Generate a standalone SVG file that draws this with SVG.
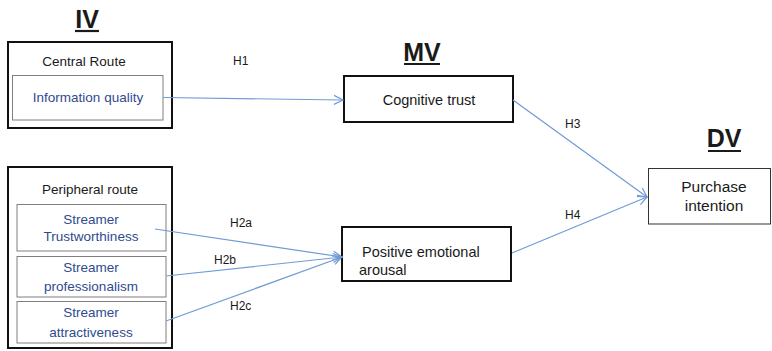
<svg xmlns="http://www.w3.org/2000/svg" width="772" height="351" viewBox="0 0 772 351">
<style>
text{font-family:"Liberation Sans",Arial,sans-serif;fill:#1a1a1a}
.hd{font-weight:bold;font-size:25px;text-anchor:middle}
.ul{stroke:#1a1a1a;stroke-width:2.2}
.outer{fill:#fff;stroke:#111;stroke-width:2}
.inner{fill:#fff;stroke:#7f7f7f;stroke-width:1}
.lbl{font-size:13.5px;text-anchor:middle}
.blue{fill:#2f4b8e}
.mid{font-size:14.5px}
.h{font-size:12px}
.con{stroke:#6f9bd6;stroke-width:1.2;fill:none;marker-end:url(#ah)}
</style>
<defs>
<marker id="ah" markerUnits="userSpaceOnUse" markerWidth="12" markerHeight="12" refX="10" refY="6" orient="auto">
<path d="M1,1.5 L10,6 L1,10.5" fill="none" stroke="#6f9bd6" stroke-width="1.2"/>
</marker>
</defs>
<rect width="772" height="351" fill="#fff"/>
<g id="heading-iv"><text class="hd" x="87" y="28">IV</text><line class="ul" x1="75" y1="31" x2="99" y2="31"/></g>
<g id="heading-mv"><text class="hd" x="422" y="61">MV</text><line class="ul" x1="404" y1="64" x2="440" y2="64"/></g>
<g id="heading-dv"><text class="hd" x="724" y="147">DV</text><line class="ul" x1="708" y1="151" x2="741" y2="151"/></g>
<g id="central-route">
<rect class="outer" x="8" y="42" width="164" height="86"/>
<text class="lbl" x="84" y="66">Central Route</text>
</g>
<g id="information-quality">
<rect class="inner" x="12.5" y="75.5" width="150.5" height="44.5"/>
<text class="lbl blue" x="88" y="102">Information quality</text>
</g>
<g id="peripheral-route">
<rect class="outer" x="8" y="167" width="164" height="181"/>
<text class="lbl" x="90" y="194">Peripheral route</text>
</g>
<g id="streamer-trustworthiness">
<rect class="inner" x="17" y="204.5" width="149" height="46.5"/>
<text class="lbl blue" x="91" y="224">Streamer</text>
<text class="lbl blue" x="91" y="241">Trustworthiness</text>
</g>
<g id="streamer-professionalism">
<rect class="inner" x="17" y="256.5" width="149" height="40.5"/>
<text class="lbl blue" x="91" y="272">Streamer</text>
<text class="lbl blue" x="91" y="291">professionalism</text>
</g>
<g id="streamer-attractiveness">
<rect class="inner" x="17" y="301.5" width="149" height="41.5"/>
<text class="lbl blue" x="91" y="317">Streamer</text>
<text class="lbl blue" x="91" y="337">attractiveness</text>
</g>
<g id="cognitive-trust">
<rect class="outer" x="344" y="76" width="169" height="46"/>
<text class="mid" x="429" y="105" text-anchor="middle">Cognitive trust</text>
</g>
<g id="positive-emotional-arousal">
<rect class="outer" x="342" y="227" width="169" height="54"/>
<text class="mid" x="362" y="257">Positive emotional</text>
<text class="mid" x="359" y="275">arousal</text>
</g>
<g id="purchase-intention">
<rect x="648.5" y="168.5" width="122" height="55.5" fill="#fff" stroke="#333" stroke-width="1"/>
<text x="714" y="192" font-size="15.5" text-anchor="middle">Purchase</text>
<text x="714" y="211" font-size="15.5" text-anchor="middle">intention</text>
</g>
<g id="connectors">
<line class="con" x1="163" y1="97.5" x2="343" y2="100"/>
<line class="con" x1="155" y1="229" x2="342" y2="257"/>
<line class="con" x1="166" y1="276" x2="342" y2="257"/>
<line class="con" x1="166" y1="321" x2="342" y2="257"/>
<line class="con" x1="513" y1="100" x2="647" y2="197"/>
<line class="con" x1="512" y1="253" x2="647" y2="197"/>
<text class="h" x="233" y="65">H1</text>
<text class="h" x="230" y="227">H2a</text>
<text class="h" x="214" y="264">H2b</text>
<text class="h" x="230" y="310">H2c</text>
<text class="h" x="565" y="128">H3</text>
<text class="h" x="565" y="219">H4</text>
</g>
</svg>
